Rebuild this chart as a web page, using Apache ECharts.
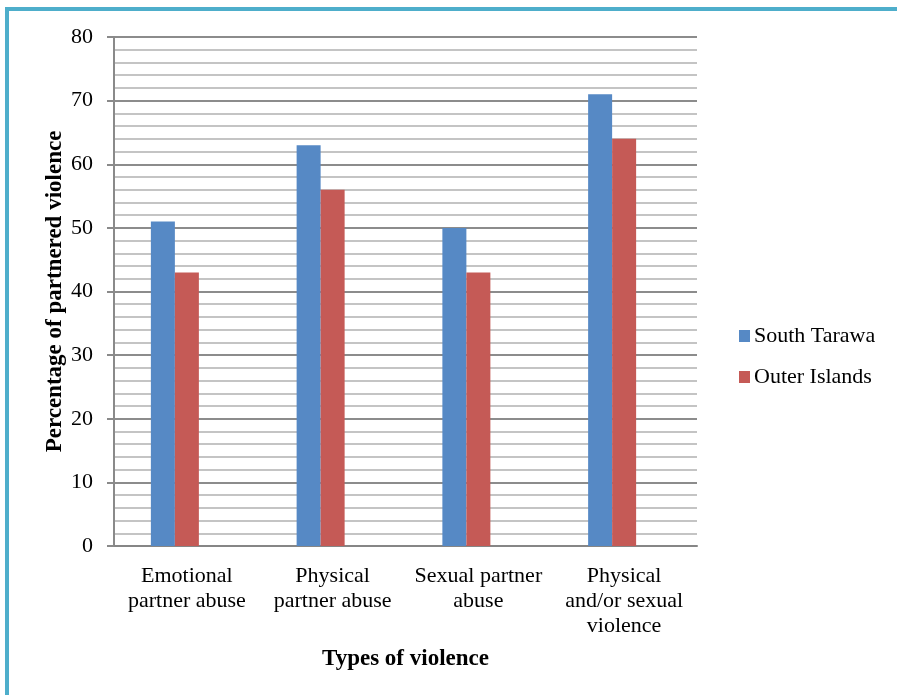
<!DOCTYPE html>
<html>
<head>
<meta charset="utf-8">
<script src="https://cdn.jsdelivr.net/npm/echarts@6/dist/echarts.min.js"></script>
<style>
html,body{margin:0;padding:0;background:#fff;}
#chart{width:897px;height:695px;}
</style>
</head>
<body>
<div id="chart"></div>
<script>
const categories = ["Emotional\npartner abuse", "Physical\npartner abuse", "Sexual partner\nabuse", "Physical\nand/or sexual\nviolence"];
const southTarawa = [51, 63, 50, 71];
const outerIslands = [43, 56, 43, 64];
const seriesNames = ["South Tarawa", "Outer Islands"];
const yTitle = "Percentage of partnered violence";
const xTitle = "Types of violence";

const FONT = "Liberation Serif";
const chart = echarts.init(document.getElementById('chart'));
chart.setOption({
  animation: false,
  backgroundColor: '#fff',
  graphic: [{
    type: 'rect', silent: true, z: 100,
    shape: { x: 7, y: 9, width: 1200, height: 1200 },
    style: { fill: 'none', stroke: '#4eaecb', lineWidth: 4 }
  }],
  grid: { left: 114, top: 37, right: 200, bottom: 149, containLabel: false },
  legend: {
    data: seriesNames,
    orient: 'vertical',
    left: 734, top: 320,
    itemWidth: 11, itemHeight: 12, itemGap: 19,
    icon: 'rect',
    textStyle: { fontFamily: FONT, fontSize: 22, color: '#000', padding: [0, 0, 0, -1] }
  },
  xAxis: {
    type: 'category',
    data: categories,
    name: xTitle,
    nameLocation: 'middle',
    nameGap: 102,
    nameTextStyle: { fontFamily: FONT, fontSize: 23, fontWeight: 'bold', color: '#000' },
    axisLine: { lineStyle: { color: '#868686', width: 2 } },
    axisTick: { show: false },
    axisLabel: { fontFamily: FONT, fontSize: 22, color: '#000', lineHeight: 25, margin: 18, interval: 0 }
  },
  yAxis: {
    type: 'value',
    min: 0, max: 80, interval: 10,
    name: yTitle,
    nameLocation: 'middle',
    nameGap: 47,
    nameMoveOverlap: false,
    nameTextStyle: { fontFamily: FONT, fontSize: 23, fontWeight: 'bold', color: '#000' },
    axisLine: { show: true, lineStyle: { color: '#8a8a8a', width: 2 } },
    axisTick: { show: true, length: 7, lineStyle: { color: '#8a8a8a', width: 2 } },
    axisLabel: { fontFamily: FONT, fontSize: 22, color: '#000', margin: 21 },
    splitLine: { show: true, lineStyle: { color: '#8c8c8c', width: 2 } },
    minorTick: { show: false, splitNumber: 5 },
    minorSplitLine: { show: true, lineStyle: { color: '#c4c4c4', width: 2 } }
  },
  series: [
    { name: seriesNames[0], type: 'bar', data: southTarawa, barWidth: 24, barGap: '0%',
      itemStyle: { color: '#5689c5' } },
    { name: seriesNames[1], type: 'bar', data: outerIslands, barWidth: 24, barGap: '0%',
      itemStyle: { color: '#c55a56' } },
    { name: '', type: 'bar', data: [], barWidth: 24, barGap: '0%' }
  ]
});
</script>
</body>
</html>
